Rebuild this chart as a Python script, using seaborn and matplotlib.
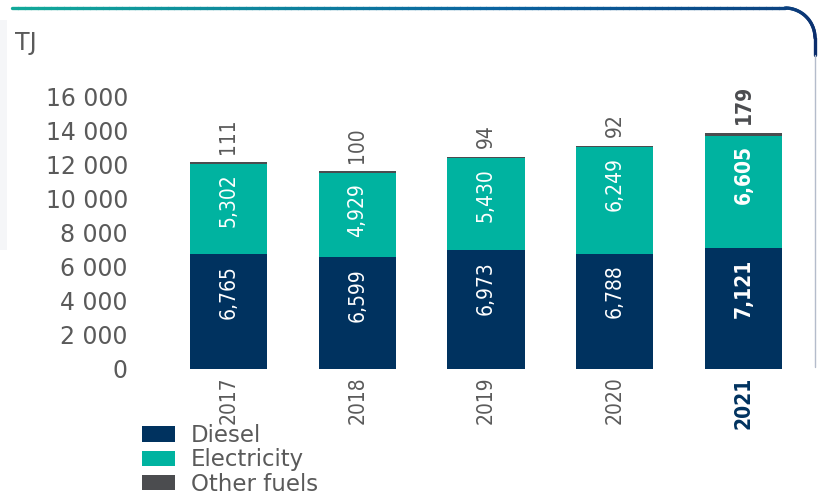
import numpy as np
import pandas as pd
import matplotlib
matplotlib.use("Agg")
import matplotlib.pyplot as plt
import matplotlib.colors as mcolors
import seaborn as sns
from matplotlib.collections import LineCollection
from matplotlib.patches import Rectangle

# ---- data (TJ) ----
years = ["2017", "2018", "2019", "2020", "2021"]
diesel = [6765, 6599, 6973, 6788, 7121]
electricity = [5302, 4929, 5430, 6249, 6605]
other_fuels = [111, 100, 94, 92, 179]
y_ticks = [0, 2000, 4000, 6000, 8000, 10000, 12000, 14000, 16000]
y_tick_labels = ["0", "2 000", "4 000", "6 000", "8 000", "10 000", "12 000", "14 000", "16 000"]
unit_label = "TJ"
series_names = ["Diesel", "Electricity", "Other fuels"]

NAVY = "#00325f"
TEAL = "#00b3a0"
GREY = "#4b4c4f"
TEXT = "#5a5a5a"

sns.set_theme(style="white")
plt.rcParams["font.family"] = ["DejaVu Sans"]
NARROW = dict(family="DejaVu Sans", fontstretch="condensed")

W, H = 818, 495
fig = plt.figure(figsize=(W / 100, H / 100), dpi=100)
fig.patch.set_facecolor("white")
ax = fig.add_axes([164 / W, 126 / H, 644 / W, 272 / H])
ax.set_facecolor("white")

df = pd.DataFrame({"year": years, "diesel": diesel,
                   "electricity": electricity, "other": other_fuels})
df["elec_top"] = df["diesel"] + df["electricity"]
df["total"] = df["elec_top"] + df["other"]

# stacked bars: draw cumulative levels from the top down
for col, color in [("total", GREY), ("elec_top", TEAL), ("diesel", NAVY)]:
    sns.barplot(data=df, x="year", y=col, color=color, width=0.6,
                saturation=1, linewidth=0, errorbar=None, ax=ax)

ax.set_ylim(0, 16000)
ax.set_xlabel("")
ax.set_ylabel("")
for s in ax.spines.values():
    s.set_visible(False)
ax.grid(False)

ax.set_yticks(y_ticks)
ax.set_yticklabels(y_tick_labels, fontsize=17, color=TEXT)
ax.tick_params(axis="y", length=0, pad=26)

ax.set_xticks(range(len(years)))
ax.set_xticklabels(years, rotation=90, fontsize=15, color=TEXT, **NARROW)
ax.tick_params(axis="x", length=0, pad=5.5)
last = ax.get_xticklabels()[-1]
last.set_fontweight("bold")
last.set_color(NAVY)

# value labels
n = len(years)
for i in range(n):
    w = "bold" if i == n - 1 else "normal"
    common = dict(textcoords="offset points", rotation=90, ha="center",
                  fontsize=15, fontweight=w, **NARROW)
    ax.annotate(f"{diesel[i]:,}", xy=(i, df["diesel"][i]), xytext=(0, -8),
                va="top", color="white", **common)
    ax.annotate(f"{electricity[i]:,}", xy=(i, df["elec_top"][i]), xytext=(0, -7),
                va="top", color="white", **common)
    ax.annotate(f"{other_fuels[i]:,}", xy=(i, df["total"][i]), xytext=(0, 6),
                va="bottom", color=GREY if i == n - 1 else TEXT,
                annotation_clip=False, **common)

fig.text(15 / W, 1 - 43 / H, unit_label, ha="left", va="center", fontsize=17, color=TEXT)

handles = [Rectangle((0, 0), 1, 1, facecolor=c, edgecolor="none") for c in (NAVY, TEAL, GREY)]
fig.legend(handles, series_names, loc="upper left", bbox_to_anchor=(142 / W, 1 - 424 / H),
           frameon=False, fontsize=16.5, handlelength=1.42, handleheight=0.64,
           handletextpad=0.72, labelspacing=0.06, borderpad=0, borderaxespad=0,
           labelcolor=TEXT)

# decorative panel frame: gradient top rule with a rounded right corner
def px(x, y_top):
    return (x / W, 1 - y_top / H)

pts = [px(x, 8) for x in np.linspace(12, 785, 120)]
for t in np.linspace(np.pi / 2, 0, 30):
    pts.append(px(785 + 30 * np.cos(t), 38 - 30 * np.sin(t)))
pts.append(px(815, 55))
pts = np.array(pts)
segs = np.stack([pts[:-1], pts[1:]], axis=1)
cmap = mcolors.LinearSegmentedColormap.from_list("rule", ["#12a99a", "#0a63a0", "#0b2d6c"])
lc = LineCollection(segs, colors=cmap(np.linspace(0, 1, len(segs))), linewidths=2.4,
                    transform=fig.transFigure, capstyle="round")
fig.add_artist(lc)
fig.add_artist(plt.Line2D([815 / W, 815 / W], [1 - 55 / H, 1 - 367 / H], color="#b4bccb",
                          lw=1.0, transform=fig.transFigure))
fig.add_artist(Rectangle((0, 1 - 250 / H), 7 / W, 230 / H, facecolor="#f5f6f8",
                         edgecolor="none", transform=fig.transFigure, zorder=-1))

fig.savefig("out.png", dpi=100)
